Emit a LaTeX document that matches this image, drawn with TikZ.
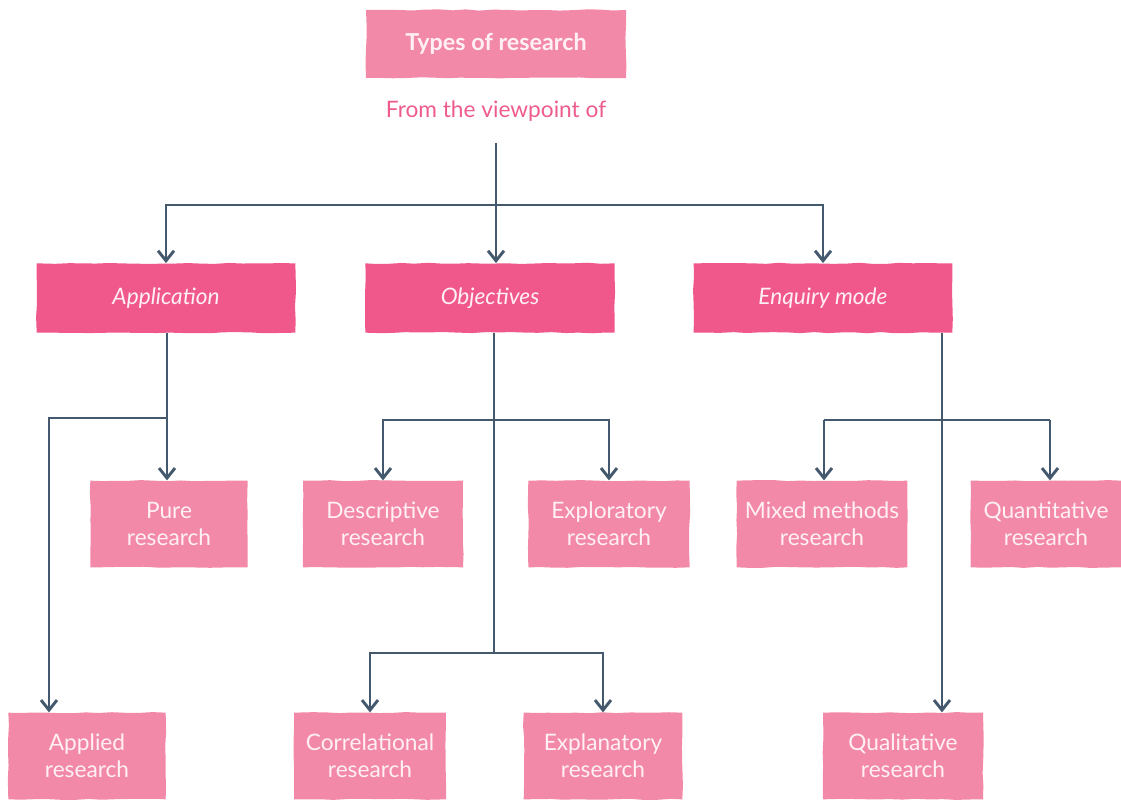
\documentclass[tikz,border=0pt]{standalone}
\usepackage{fontspec}
\setmainfont{Lato}
\usetikzlibrary{arrows.meta,decorations.pathmorphing}
\definecolor{deeppink}{RGB}{240,88,140}
\definecolor{softpink}{RGB}{243,137,168}
\definecolor{wirecol}{RGB}{68,89,110}
\definecolor{labelpink}{RGB}{238,92,142}
\definecolor{paletext}{RGB}{255,240,245}
\begin{document}
\begin{tikzpicture}[x=0.75pt,y=-0.75pt,
  brush/.style={fill=#1, decorate,
    decoration={random steps, segment length=10pt, amplitude=0.45pt},
    text=paletext, align=center, inner sep=0pt,
    font=\fontsize{17}{20}\selectfont},
  headbox/.style={brush=softpink, minimum width=195pt, minimum height=51pt,
    font=\fontsize{17.5}{20}\selectfont\bfseries},
  groupbox/.style={brush=deeppink, minimum width=194pt, minimum height=52pt,
    font=\fontsize{17}{20}\selectfont\itshape},
  leafbox/.style={brush=softpink, minimum width=118pt, minimum height=65pt},
  wire/.style={draw=wirecol, line width=2.1pt},
  arrow/.style={wire, -{Straight Barb[length=7.5pt,width=12pt,line width=2.2pt]}}
]
\pgfmathsetseed{7}
\useasboundingbox (0,0) rectangle (1121,803);

% title and caption
\node[headbox] (top) at (496,44) {Types of research};
\node[text=labelpink, font=\fontsize{17}{20}\selectfont, inner sep=2pt] (view) at (496,111) {From the viewpoint of};

% criteria
\node[groupbox] (app) at (166,298) {Application};
\node[groupbox, minimum width=187pt] (obj) at (490,298) {Objectives};
\node[groupbox] (enq) at (823,298) {Enquiry mode};

% research types
\node[leafbox] (pure) at (169,524) {Pure\\research};
\node[leafbox] (applied) at (87,756) {Applied\\research};
\node[leafbox, minimum width=120pt] (desc) at (383,524) {Descriptive\\research};
\node[leafbox, minimum width=121pt] (expl) at (609,524) {Exploratory\\research};
\node[leafbox, minimum width=114pt] (corr) at (370,756) {Correlational\\research};
\node[leafbox, minimum width=119pt] (expn) at (603,756) {Explanatory\\research};
\node[leafbox, minimum width=128pt] (mixed) at (822,524) {Mixed methods\\research};
\node[leafbox, minimum width=113pt] (quant) at (1046,524) {Quantitative\\research};
\node[leafbox, minimum width=120pt] (qual) at (903,756) {Qualitative\\research};

% junction points
\coordinate (j0) at (496,205);
\coordinate (j1) at (167,418);
\coordinate (a1) at (49,418);
\coordinate (j2) at (494,420);
\coordinate (j3) at (494,653);
\coordinate (m1) at (824,420);
\coordinate (q1) at (1050,420);
\coordinate (e1) at (942,333);

% top level
\draw[wire, shorten <=14pt] (view.south) -- (j0);
\draw[arrow] (j0) -| (app.north);
\draw[arrow] (j0) -- (obj.north -| j0);
\draw[arrow] (j0) -| (enq.north);

% application branch
\draw[wire] (app.south -| j1) -- (j1);
\draw[arrow] (j1) -- (pure.north -| j1);
\draw[arrow] (j1) -- (a1) -- (a1 |- applied.north);

% objectives branch
\draw[wire] (obj.south -| j2) -- (j3);
\draw[arrow] (j2) -| (desc.north);
\draw[arrow] (j2) -| (expl.north);
\draw[arrow] (j3) -| (corr.north);
\draw[arrow] (j3) -| (expn.north);

% enquiry mode branch
\draw[arrow] (e1) -- (e1 |- qual.north);
\draw[wire] (m1) -- (q1);
\draw[arrow] (m1) -- (m1 |- mixed.north);
\draw[arrow] (q1) -- (q1 |- quant.north);
\end{tikzpicture}
\end{document}
